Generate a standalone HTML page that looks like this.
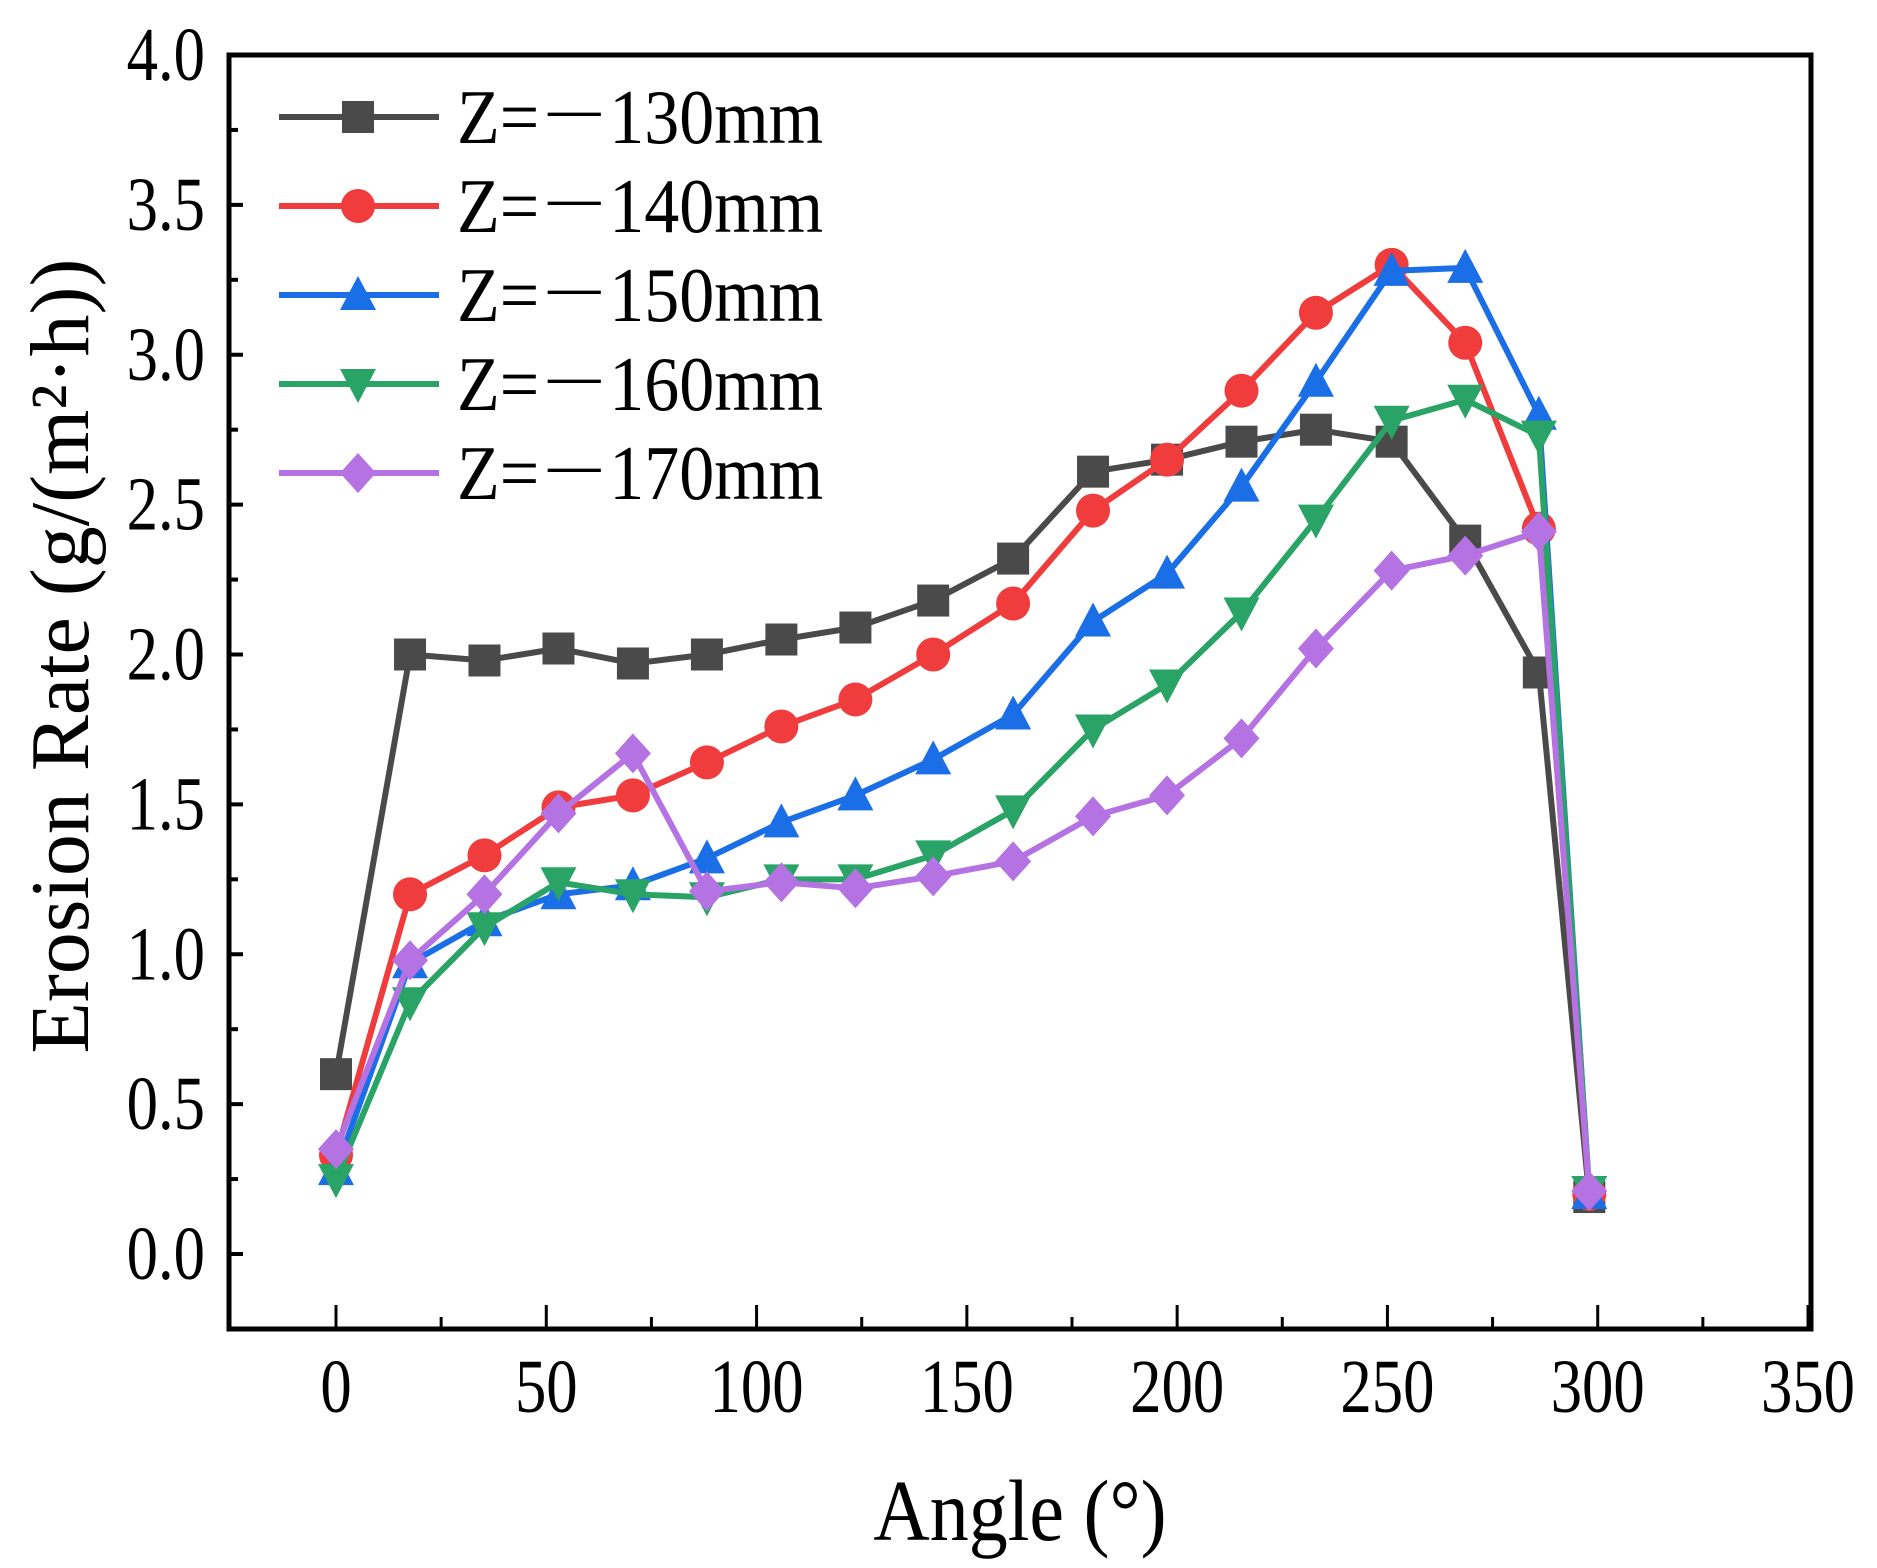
<!DOCTYPE html>
<html><head><meta charset="utf-8"><style>
html,body{margin:0;padding:0;background:#fff;}
svg{display:block;font-family:"Liberation Serif","Noto Serif CJK SC",serif;}
</style></head><body>
<svg id="chart" width="1877" height="1568" viewBox="0 0 1877 1568" xmlns="http://www.w3.org/2000/svg">
<g id="plot"></g>
</svg>
<script>
const angles = [0, 17.6, 35.3, 52.9, 70.6, 88.2, 105.9, 123.5, 142, 161, 180, 197.6, 215.3, 233, 251, 268.5, 286, 298];
const z130 = [0.6, 2.0, 1.98, 2.02, 1.97, 2.0, 2.05, 2.09, 2.18, 2.32, 2.61, 2.65, 2.71, 2.75, 2.71, 2.38, 1.94, 0.19];
const z140 = [0.33, 1.2, 1.33, 1.49, 1.53, 1.64, 1.76, 1.85, 2.0, 2.17, 2.48, 2.65, 2.88, 3.14, 3.3, 3.04, 2.42, 0.2];
const z150 = [0.28, 0.97, 1.11, 1.2, 1.23, 1.32, 1.44, 1.53, 1.65, 1.8, 2.11, 2.27, 2.56, 2.91, 3.28, 3.29, 2.8, 0.2];
const z160 = [0.25, 0.84, 1.09, 1.24, 1.2, 1.19, 1.25, 1.25, 1.33, 1.48, 1.75, 1.9, 2.14, 2.45, 2.78, 2.85, 2.73, 0.21];
const z170 = [0.35, 0.98, 1.2, 1.47, 1.67, 1.21, 1.24, 1.22, 1.26, 1.31, 1.46, 1.53, 1.72, 2.02, 2.28, 2.33, 2.41, 0.21];
const seriesNames = ["Z=－130mm","Z=－140mm","Z=－150mm","Z=－160mm","Z=－170mm"];
const xTicks = [0,50,100,150,200,250,300,350];
const yTicks = [0.0,0.5,1.0,1.5,2.0,2.5,3.0,3.5,4.0];

const NS="http://www.w3.org/2000/svg";
const L=229,R=1811,T=55,B=1329;
const X0=336,X350=1808,Y0=1254,Y4=55;
function sx(v){return X0+(X350-X0)*v/350;}
function sy(v){return Y0-(Y0-Y4)*v/4;}
const g=document.getElementById('plot');
function mk(tag,attrs,parent){const e=document.createElementNS(NS,tag);for(const k in attrs)e.setAttribute(k,attrs[k]);(parent||g).appendChild(e);return e;}

const frame=mk('rect',{x:L,y:T,width:R-L,height:B-T,fill:'none',stroke:'#000','stroke-width':5});



for(let v=0;v<=4.001;v+=0.25){
  const major=Math.abs(v*2-Math.round(v*2))<1e-6;
  const t=mk('line',{x1:L,x2:L+(major?14:9),y1:sy(v),y2:sy(v),stroke:'#000','stroke-width':4});
  
  
}
yTicks.forEach(v=>{
  const t=mk('text',{x:0,y:0,'text-anchor':'end','font-size':66,transform:`translate(205,${sy(v)+25}) scale(0.95,1.15)`});
  t.textContent=v.toFixed(1);
  
  
});
for(let v=0;v<=350;v+=25){
  const major=v%50===0;
  const t=mk('line',{x1:sx(v),x2:sx(v),y1:B,y2:B-(major?24:12),stroke:'#000','stroke-width':3});
  
  
}
xTicks.forEach(v=>{
  const t=mk('text',{x:0,y:0,'text-anchor':'middle','font-size':66,transform:`translate(${sx(v)},1412) scale(0.95,1.15)`});
  t.textContent=String(v);
  
  
});
const xt=mk('text',{x:0,y:0,'text-anchor':'middle','font-size':78,transform:'translate(1020,1540) scale(1,1.12)'});
xt.textContent='Angle (°)';


const yt=mk('text',{x:0,y:0,'text-anchor':'middle','font-size':80,transform:'translate(88,656) rotate(-90) scale(1.05,1.05)'});
yt.textContent='Erosion Rate (g/(m²·h))';



const colors=['#4a4a4a','#f03c3c','#1a6ee6','#2aa366','#b572e3'];
const shapes=['square','circle','tri','tridown','diamond'];
const data=[z130,z140,z150,z160,z170];
function marker(shape,x,y,c,parent){
  const s=16;
  if(shape==='square')return mk('rect',{x:x-s,y:y-s,width:2*s,height:2*s,fill:c},parent);
  if(shape==='circle')return mk('circle',{cx:x,cy:y,r:s+1,fill:c},parent);
  if(shape==='tri')return mk('polygon',{points:`${x},${y-s-3} ${x-s-2},${y+s-1} ${x+s+2},${y+s-1}`,fill:c},parent);
  if(shape==='tridown')return mk('polygon',{points:`${x},${y+s+3} ${x-s-2},${y-s+1} ${x+s+2},${y-s+1}`,fill:c},parent);
  return mk('polygon',{points:`${x},${y-s-4} ${x+s+2},${y} ${x},${y+s+4} ${x-s-2},${y}`,fill:c},parent);
}
data.forEach((arr,i)=>{
  const sg=mk('g',{});
  
  
  const pl=mk('polyline',{points:arr.map((v,j)=>sx(angles[j])+','+sy(v)).join(' '),fill:'none',stroke:colors[i],'stroke-width':6,'stroke-linejoin':'round'},sg);
  
  
  arr.forEach((v,j)=>{
    const m=marker(shapes[i],sx(angles[j]),sy(v),colors[i],sg);
    
    
  });
  const ly=117+89*i;
  const lg=mk('g',{});
  
  
  mk('line',{x1:279,x2:439,y1:ly,y2:ly,stroke:colors[i],'stroke-width':6},lg);
  marker(shapes[i],358,ly,colors[i],lg);
  const lt=mk('text',{x:0,y:0,'font-size':70,transform:`translate(457,${ly+26}) scale(1,1.1)`},lg);
  lt.textContent=seriesNames[i];
});
</script>
</body></html>
